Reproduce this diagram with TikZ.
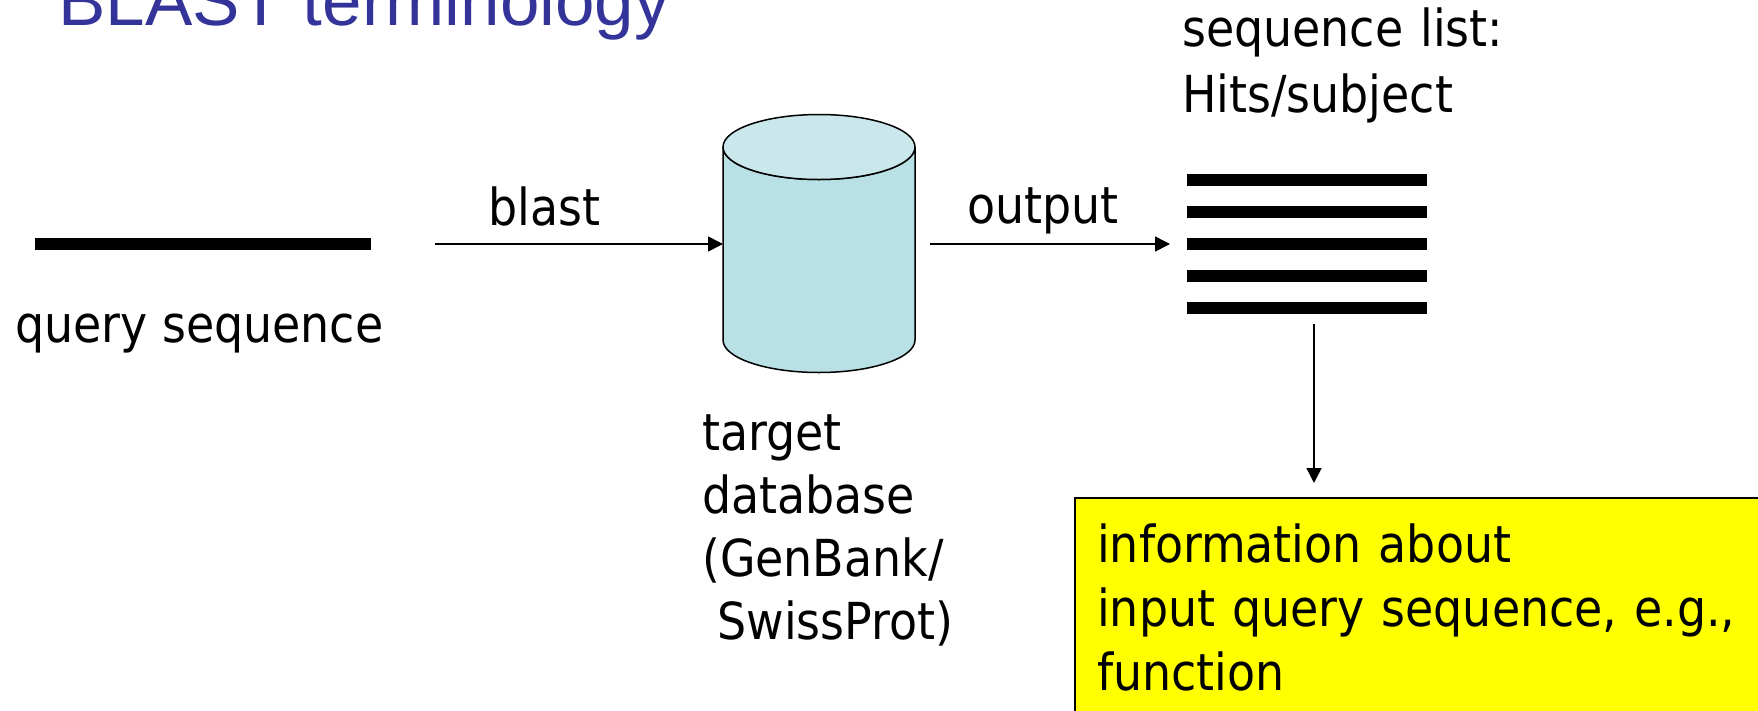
\documentclass[tikz,border=0pt]{standalone}
\usepackage{fontspec}
\setmainfont{DejaVu Sans Condensed}
\newfontfamily\titlefont{Liberation Sans}
\usepackage{tikz}
\usetikzlibrary{arrows.meta}
\definecolor{titleblue}{RGB}{51,51,153}
\definecolor{dbside}{RGB}{185,224,228}
\definecolor{dbtop}{RGB}{202,231,235}
\definecolor{infoyellow}{RGB}{255,255,0}
\tikzstyle{arr}=[line width=1.5pt, -{Triangle[length=15pt,width=15pt]}]
\tikzstyle{seqbar}=[line width=12pt]
\tikzstyle{txt}=[inner sep=0pt, anchor=base west, font=\fontsize{51}{63}\selectfont]
\tikzstyle{multitxt}=[txt, align=left, text width=#1]

\begin{document}
\begin{tikzpicture}[x=1pt,y=-1pt]
\clip (0,0) rectangle (1758,710);
\coordinate (q1) at (35,244);
\coordinate (q2) at (371,244);
\coordinate (b1) at (435,244);
\coordinate (dbw) at (723,244);
\coordinate (o1) at (930,244);
\coordinate (o2) at (1170,244);
\coordinate (d1) at (1314,324);
\coordinate (d2) at (1314,483);
% title, cut at the top
\node[inner sep=0pt, anchor=base west, text=titleblue, font=\titlefont\fontsize{71}{80}\selectfont] (ttl) at (58,25) {BLAST terminology};
% query
\draw[seqbar] (q1) -- (q2);
\node[txt] (qlbl) at (15,342) {query sequence};
\draw[arr] (b1) -- (dbw);
\node[txt] (blastlbl) at (488,225) {blast};
% database
\filldraw[fill=dbside, line width=1.5pt] (723,147) -- (723,340) arc[start angle=180, end angle=0, x radius=96, y radius=32.5] -- (915,147) arc[start angle=0, end angle=180, x radius=96, y radius=32.5] -- cycle;
\filldraw[fill=dbtop, line width=1.5pt] (819,147) ellipse[x radius=96, y radius=32.5];
\node[multitxt=300pt] (dblbl) at (702,450) {target\\database\\(GenBank/\\\hspace*{0.3em}SwissProt)};
% hits
\draw[arr] (o1) -- (o2);
\node[txt] (outlbl) at (967,223) {output};
\foreach \y in {180,212,244,276,308}
  \draw[seqbar] (1187,\y) -- (1427,\y);
\node[multitxt=400pt, font=\fontsize{51}{66}\selectfont] (hitslbl) at (1182,46) {sequence list:\\Hits/subject};
\draw[arr] (d1) -- (d2);
% result box
\filldraw[fill=infoyellow, line width=2pt] (1075,498) rectangle (1800,760);
\node[multitxt=700pt, font=\fontsize{51}{64}\selectfont] (info) at (1097,562) {information about\\input query sequence, e.g.,\\function};
\end{tikzpicture}
\end{document}
